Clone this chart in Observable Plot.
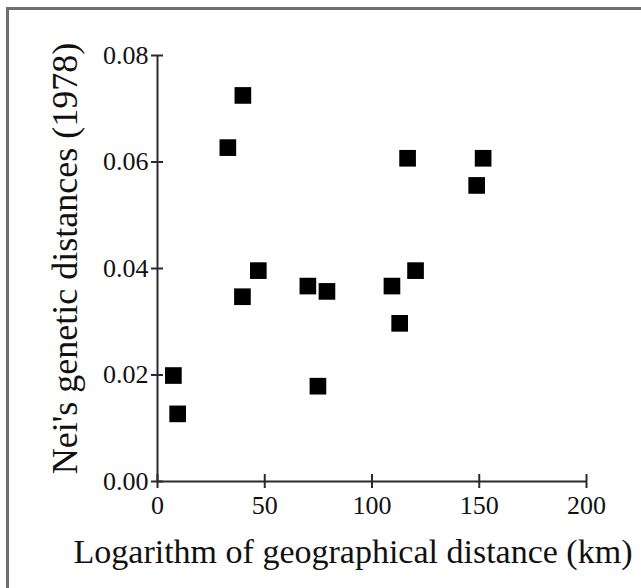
<!DOCTYPE html>
<html>
<head>
<meta charset="utf-8">
<script src="https://cdn.jsdelivr.net/npm/d3@7"></script>
<script src="https://cdn.jsdelivr.net/npm/@observablehq/plot@0.6"></script>
<style>
  html, body { margin: 0; padding: 0; background: #fff; overflow: hidden; }
  #wrap { position: relative; width: 641px; height: 588px; overflow: hidden; }
  #frame { position: absolute; left: 6px; top: 7px; width: 700px; height: 700px;
           border: 3px solid #6e6e6e; box-sizing: border-box; }
  #chart { position: absolute; left: 0; top: 0; }
</style>
</head>
<body>
<div id="wrap"><div id="frame"></div><div id="chart"></div></div>
<script>
const distanceKm = [7.4, 9.4, 32.8, 39.8, 39.6, 47.0, 70.1, 74.8, 79.0, 109.3, 112.9, 116.6, 120.3, 148.8, 151.8];
const geneticDist = [0.0199, 0.0127, 0.0627, 0.0725, 0.0347, 0.0396, 0.0367, 0.0179, 0.0357, 0.0367, 0.0297, 0.0607, 0.0396, 0.0556, 0.0607];
const xTicks = [0, 50, 100, 150, 200];
const yTicks = [0, 0.02, 0.04, 0.06, 0.08];
const xTitle = "Logarithm of geographical distance (km)";
const yTitle = "Nei's genetic distances (1978)";

const points = distanceKm.map((x, i) => ({x, y: geneticDist[i]}));
const axisColor = "#2a2a2a";

const chart = Plot.plot({
  width: 641,
  height: 588,
  marginLeft: 157,
  marginRight: 55,
  marginTop: 55,
  marginBottom: 107,
  style: {fontFamily: "'Liberation Serif', 'Times New Roman', serif", background: "transparent", color: "#1a1a1a"},
  x: {domain: [0, 200], axis: null},
  y: {domain: [0, 0.08], axis: null},
  marks: [
    Plot.ruleY([0], {stroke: axisColor, strokeWidth: 2}),
    Plot.ruleX([0], {stroke: axisColor, strokeWidth: 2}),
    Plot.ruleX(xTicks, {x: d => d, y1: 0, y2: 0, insetTop: -7, insetBottom: -7, stroke: axisColor, strokeWidth: 2}),
    Plot.ruleY(yTicks, {y: d => d, x1: 0, x2: 0, insetLeft: -6, insetRight: -6, stroke: axisColor, strokeWidth: 2}),
    Plot.axisX({ticks: xTicks, tickSize: 0, tickPadding: 14, fontSize: 26, tickFormat: d3.format("d"), label: null, fill: "#111"}),
    Plot.axisY({ticks: yTicks, tickSize: 0, tickPadding: 9, fontSize: 26, tickFormat: d3.format(".2f"), label: null, fill: "#111"}),
    Plot.dot(points, {x: "x", y: "y", symbol: "square", r: 9.4, fill: "#000", stroke: null}),
    Plot.text([xTitle], {text: d => d, frameAnchor: "bottom", textAnchor: "middle", lineAnchor: "top", dx: -19, dy: 57, fontSize: 34, fill: "#111"}),
    Plot.text([yTitle], {text: d => d, frameAnchor: "left", rotate: -90, textAnchor: "middle", lineAnchor: "top", dx: -106, dy: -10, fontSize: 36, fill: "#111"})
  ]
});
document.getElementById("chart").appendChild(chart);
</script>
</body>
</html>
